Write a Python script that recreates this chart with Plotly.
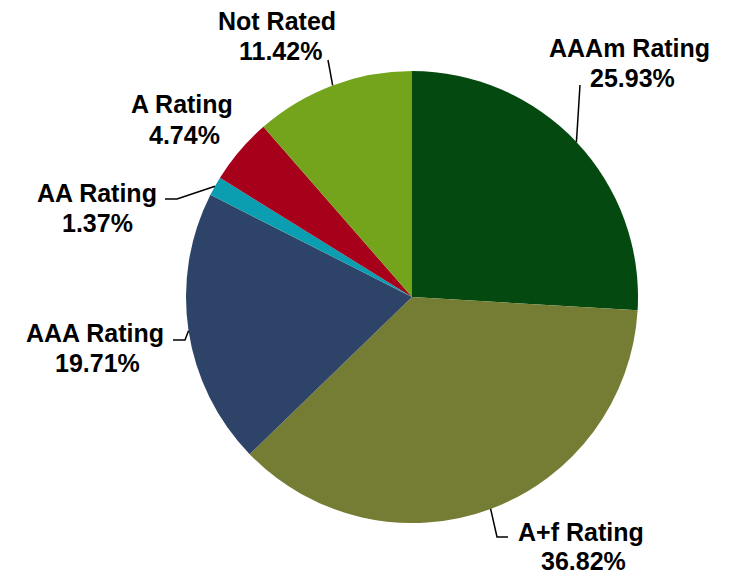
import numpy as np
import plotly.graph_objects as go

# Data
categories = ["AAAm Rating", "A+f Rating", "AAA Rating", "AA Rating", "A Rating", "Not Rated"]
values = [25.93, 36.82, 19.71, 1.37, 4.74, 11.42]
colors = ["#04490F", "#757C33", "#2D4468", "#0B9EB0", "#A6001B", "#73A41B"]

OFF = 8                      # page body margin offset
W, H = 730 - OFF, 575 - OFF  # figure size that fits the window
CX, CY, R = 412, 297, 226    # pie centre / radius in page px

def px_x(x):
    return (x - OFF) / W

def px_y(y):
    return 1 - (y - OFF) / H

fig = go.Figure(go.Pie(
    labels=categories,
    values=values,
    sort=False,
    direction="clockwise",
    rotation=0,
    marker=dict(colors=colors, line=dict(width=0)),
    textinfo="none",
    hoverinfo="label+percent",
    showlegend=False,
    domain=dict(x=[px_x(CX - R), px_x(CX + R)], y=[px_y(CY + R), px_y(CY - R)]),
))

# label layout: (x1, y1) line-1 centre, (x2, y2) line-2 centre, in page px
label_pos = {
    "AAAm Rating": ((629, 48), (632, 78)),
    "A+f Rating": ((581, 532), (583, 561)),
    "AAA Rating": ((95, 333), (97, 363)),
    "AA Rating": ((97, 193), (97, 223)),
    "A Rating": ((182, 104), (184, 135)),
    "Not Rated": ((277, 21), (280, 51)),
}
leader_mid = {
    "AAAm Rating": [(580, 85)],
    "A+f Rating": [(497, 537), (508, 537)],
    "AAA Rating": [(185, 340), (173, 340)],
    "AA Rating": [(177, 199), (165, 199)],
    "A Rating": None,
    "Not Rated": [(328, 60)],
}

tot = sum(values)
cum = np.cumsum([0] + values)
font = dict(family="Liberation Sans, Arial, sans-serif", size=25, color="black")
for i, cat in enumerate(categories):
    pct = values[i] / tot * 100
    (x1, y1), (x2, y2) = label_pos[cat]
    for (x, y), txt in (((x1, y1), cat), ((x2, y2), f"{pct:.2f}%")):
        fig.add_annotation(
            x=px_x(x), y=px_y(y), xref="paper", yref="paper",
            text=f"<b>{txt}</b>",
            showarrow=False, font=font, align="center",
            xanchor="center", yanchor="middle",
        )
    pts = leader_mid[cat]
    if pts:
        mid = (cum[i] + cum[i + 1]) / 2 / tot * 2 * np.pi
        sx = CX + R * np.sin(mid)
        sy = CY - R * np.cos(mid)
        path_pts = [(sx, sy)] + pts
        path = "M " + " L ".join(f"{px_x(a):.5f},{px_y(b):.5f}" for a, b in path_pts)
        fig.add_shape(type="path", path=path, xref="paper", yref="paper",
                      line=dict(color="black", width=1.5))

fig.update_layout(
    width=W, height=H,
    margin=dict(l=0, r=0, t=0, b=0),
    paper_bgcolor="white",
    plot_bgcolor="white",
)

fig.write_html("out.html")
